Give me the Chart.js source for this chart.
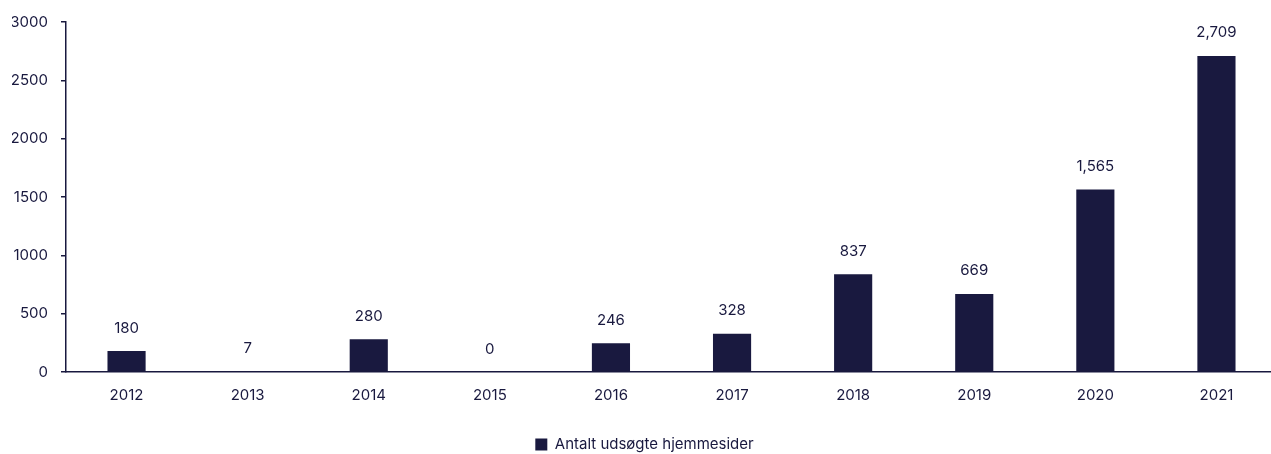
<!DOCTYPE html>
<html>
<head>
<meta charset="utf-8">
<script src="https://cdn.jsdelivr.net/npm/chart.js@4/dist/chart.umd.min.js"></script>
<style>
  html, body { margin: 0; padding: 0; background: #fff; overflow: hidden; }
  #wrap { width: 1277px; height: 454px; }
</style>
</head>
<body>
<div id="wrap"><canvas id="bar-chart"></canvas></div>
<script>
const years = ['2012', '2013', '2014', '2015', '2016', '2017', '2018', '2019', '2020', '2021'];
const sites = [180, 7, 280, 0, 246, 328, 837, 669, 1565, 2709];
const yTicks = [0, 500, 1000, 1500, 2000, 2500, 3000];
const seriesName = 'Antalt udsøgte hjemmesider';

const navy = '#19193f';
const ctx = document.getElementById('bar-chart').getContext('2d');

// simple value labels above each bar
const barLabels = {
    id: 'barLabels',
    afterDatasetsDraw(chart) {
        const c = chart.ctx;
        const meta = chart.getDatasetMeta(0);
        c.save();
        c.fillStyle = navy;
        c.font = '15px Inter, "Noto Sans", sans-serif';
        c.textAlign = 'center';
        c.textBaseline = 'middle';
        meta.data.forEach((bar, i) => {
            c.fillText(sites[i].toLocaleString('en-US'), bar.x, bar.y - 23);
        });
        c.restore();
    }
};

Chart.defaults.font.family = 'Inter, "Noto Sans", sans-serif';
Chart.defaults.font.size = 15;
Chart.defaults.color = navy;

let chart = new Chart(ctx, {
    type: 'bar',
    data: {
        labels: years,
        datasets: [{
            label: seriesName,
            data: sites,
            backgroundColor: navy,
            categoryPercentage: 1,
            barPercentage: 0.315
        }]
    },
    options: {
        responsive: true,
        maintainAspectRatio: false,
        animation: false,
        layout: { padding: { left: 12, right: 0, top: 12, bottom: -8 } },
        plugins: {
            legend: {
                position: 'bottom',
                labels: {
                    boxWidth: 12,
                    boxHeight: 12,
                    padding: 2,
                    color: navy
                }
            },
            tooltip: { enabled: false }
        },
        scales: {
            x: {
                grid: { display: false, drawTicks: false },
                border: { display: true, color: navy, width: 1.5 },
                ticks: { padding: 14, color: navy },
                afterFit(axis) { axis.height += 17; }
            },
            y: {
                min: 0,
                max: 3000,
                afterBuildTicks(axis) {
                    axis.ticks = yTicks.map(v => ({ value: v }));
                },
                afterFit(axis) { axis.width = 54; },
                grid: { drawOnChartArea: false, drawTicks: true, tickLength: 5, color: navy, lineWidth: 1.5 },
                border: { display: true, color: navy, width: 1.5 },
                ticks: { padding: 13, color: navy, callback: v => String(v) }
            }
        }
    },
    plugins: [barLabels]
});
</script>
</body>
</html>
